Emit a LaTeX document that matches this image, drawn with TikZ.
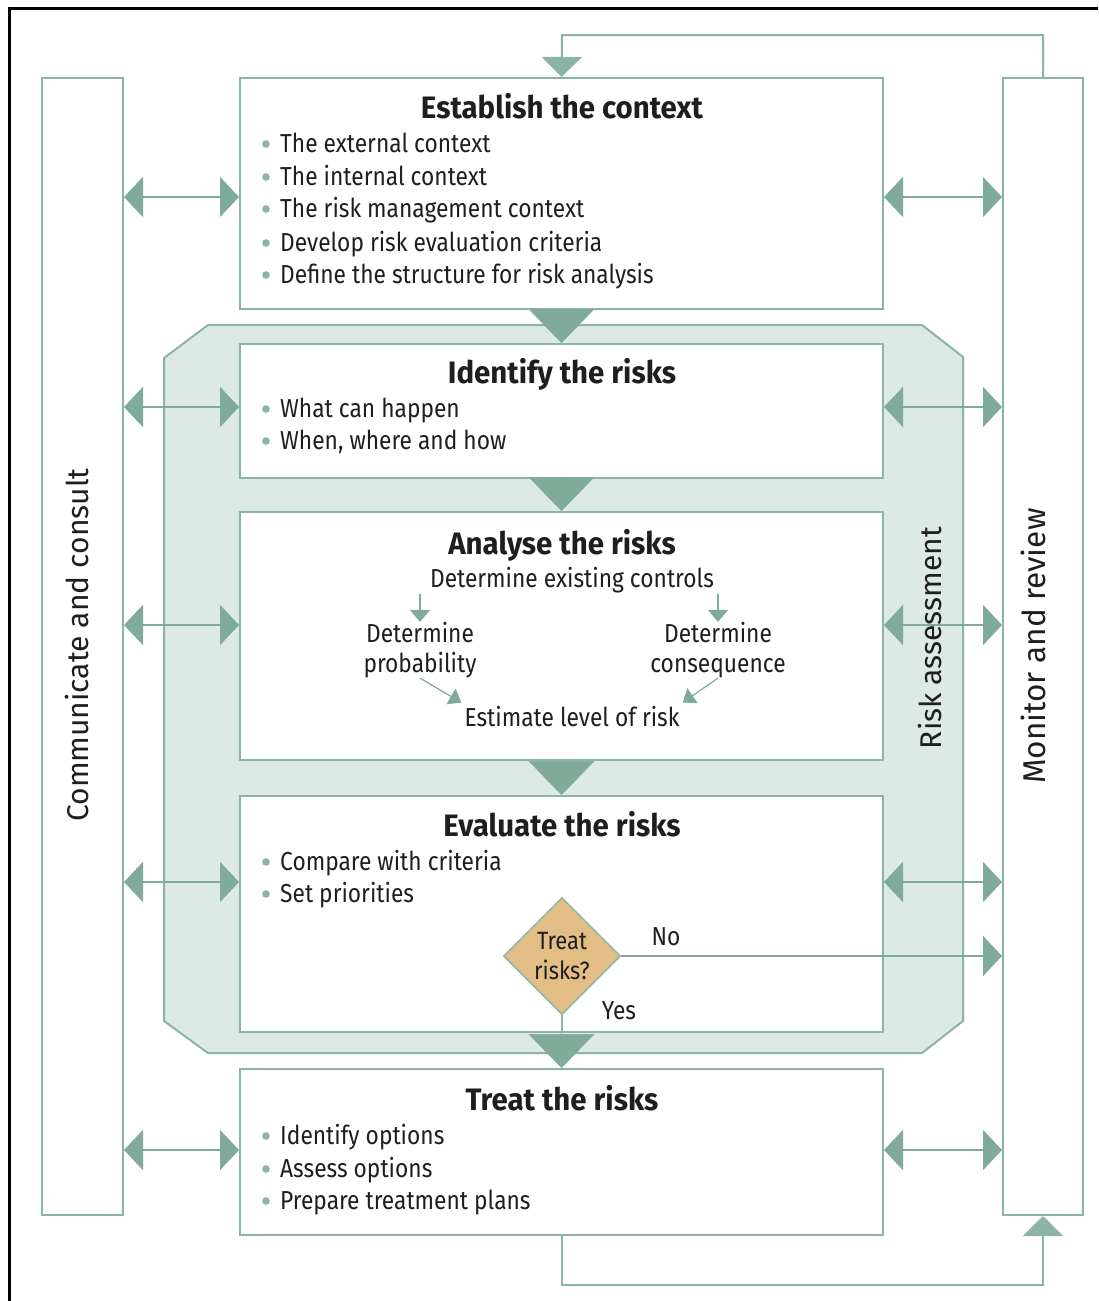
\documentclass[tikz,border=0pt]{standalone}
\usepackage{fontspec}
\setmainfont{Fira Sans}[FakeStretch=0.875]
\newfontfamily\vfont{Fira Sans}
\newfontfamily\tfont{Fira Sans}[FakeStretch=0.95]
\usetikzlibrary{arrows.meta,shapes.geometric}
\definecolor{gl}{RGB}{140,180,165}
\definecolor{ga}{RGB}{128,170,153}
\definecolor{gfill}{RGB}{221,233,228}
\definecolor{tanf}{RGB}{226,190,134}
\definecolor{txt}{RGB}{30,30,30}
\begin{document}
\begin{tikzpicture}[x=1pt,y=-1pt,
  box/.style={draw=gl, line width=2pt, fill=white, inner sep=0pt},
  col/.style={draw=gl, line width=2pt, fill=white, inner sep=0pt, minimum width=81pt, minimum height=1137pt},
  bigbox/.style={box, minimum width=643pt},
  dbl/.style={draw=ga, line width=2pt, {Triangle[length=19pt,width=40pt]}-{Triangle[length=19pt,width=40pt]}},
  one/.style={draw=ga, line width=2pt, -{Triangle[length=19pt,width=40pt]}},
  loopl/.style={draw=gl, line width=2pt, -{Triangle[length=20pt,width=40pt]}},
  flow/.style={draw=ga, line width=0.5pt, -{Triangle[length=34pt,width=66pt]}},
  small/.style={draw=ga, line width=1.5pt, -{Triangle[length=12pt,width=20pt]}},
  thin/.style={draw=ga, line width=1.2pt, -{Triangle[length=12pt,width=18pt]}},
  bodyf/.style={font=\fontsize{26}{30}\selectfont, text=txt, inner sep=0pt},
  bul/.style={bodyf, anchor=base west},
  ttl/.style={font=\tfont\bfseries\fontsize{31}{34}\selectfont, text=txt, inner sep=0pt, anchor=base},
  vlab/.style={font=\vfont\fontsize{30}{34}\selectfont, text=txt, rotate=90, inner sep=0pt},
]
\useasboundingbox (0,0) rectangle (1098,1301);
\fill[white] (0,0) rectangle (1098,1301);
\draw[black, line width=3pt] (9,1301) -- (9,8) -- (1098,8);

% risk assessment region
\filldraw[fill=gfill, draw=gl, line width=2pt] (164,358) -- (208,325) -- (922,325) -- (963,357) -- (963,1021) -- (922,1053) -- (208,1053) -- (164,1021) -- cycle;

% columns
\node[col] (comm) at (82.5,646.5) {};
\node[col, minimum width=80pt] (mon) at (1043,646.5) {};
\node[vlab] (commt) at (77,645) {Communicate and consult};
\node[vlab, font=\vfont\fontsize{31.5}{34}\selectfont] (mont) at (1033,646) {Monitor and review};
\node[vlab] (riskt) at (930,638) {Risk assessment};

% main boxes
\node[bigbox, minimum height=231pt] (est) at (561.5,193.5) {};
\node[bigbox, minimum height=134pt] (ident) at (561.5,411) {};
\node[bigbox, minimum height=248pt] (anal) at (561.5,636) {};
\node[bigbox, minimum height=236pt] (eval) at (561.5,914) {};
\node[bigbox, minimum height=166pt] (treat) at (561.5,1152) {};

% titles
\node[ttl] (estT) at (562,118) {Establish the context};
\node[ttl] (identT) at (562,383) {Identify the risks};
\node[ttl] (analT) at (562,554) {Analyse the risks};
\node[ttl] (evalT) at (562,836) {Evaluate the risks};
\node[ttl] (treatT) at (562,1110) {Treat the risks};

% bullets
\foreach \yy in {152,185,217,251,283,417,449,870,902,1144,1177,1209}
  \fill[gl] (266,\yy-8) circle (3.8pt);
\node[bul] (e1) at (280,152) {The external context};
\node[bul] (e2) at (280,185) {The internal context};
\node[bul] (e3) at (280,217) {The risk management context};
\node[bul] (e4) at (280,251) {Develop risk evaluation criteria};
\node[bul] (e5) at (280,283) {Define the structure for risk analysis};
\node[bul] (i1) at (280,417) {What can happen};
\node[bul] (i2) at (280,449) {When, where and how};
\node[bul] (v1) at (280,870) {Compare with criteria};
\node[bul] (v2) at (280,902) {Set priorities};
\node[bul] (t1) at (280,1144) {Identify options};
\node[bul] (t2) at (280,1177) {Assess options};
\node[bul] (t3) at (280,1209) {Prepare treatment plans};

% analyse content
\node[bodyf, anchor=base] (ctrl) at (572,587) {Determine existing controls};
\node[bodyf, align=center] (prob) at (420,650) {Determine\\probability};
\node[bodyf, align=center] (cons) at (718,650) {Determine\\consequence};
\node[bodyf, anchor=base, inner sep=3pt] (lev) at (572,726) {Estimate level of risk};
\draw[small] (prob.north |- 0,594) -- (prob.north);
\draw[small] (cons.north |- 0,594) -- (cons.north);
\draw[thin] (prob.south) -- (lev.north west);
\draw[thin] (cons.south) -- (lev.north east);

% decision
\node[diamond, draw=gl, fill=tanf, line width=1.5pt, minimum width=117pt, minimum height=117pt, inner sep=0pt, align=center, font=\fontsize{25}{30}\selectfont, text=txt] (dia) at (562,956) {Treat\\risks?};
\node[bodyf, anchor=base] (no) at (666,945) {No};
\node[bodyf, anchor=base] (yes) at (619,1019) {Yes};
\draw[draw=gl, line width=2pt] (dia.south) -- (dia.south |- eval.south);
\draw[one] (dia.east) -- (dia.east -| mon.west);

% flow arrows
\draw[flow] (est.south) -- (ident.north);
\draw[flow] (ident.south) -- (anal.north);
\draw[flow] (anal.south) -- (eval.north);
\draw[flow] (eval.south) -- (treat.north);

% side arrows
\foreach \yy/\nm in {197/est,407/ident,625/anal,882/eval,1150/treat}{
  \coordinate (y\nm) at (0,\yy);
  \draw[dbl] (comm.east |- y\nm) -- (\nm.west |- y\nm);
  \draw[dbl] (\nm.east |- y\nm) -- (mon.west |- y\nm);
}

% loops
\coordinate (tl) at (562,35);
\coordinate (bl) at (1043,1285);
\draw[loopl] (mon.north) |- (tl) -- (est.north);
\draw[loopl] (treat.south) |- (bl) -- (mon.south);
\end{tikzpicture}
\end{document}
